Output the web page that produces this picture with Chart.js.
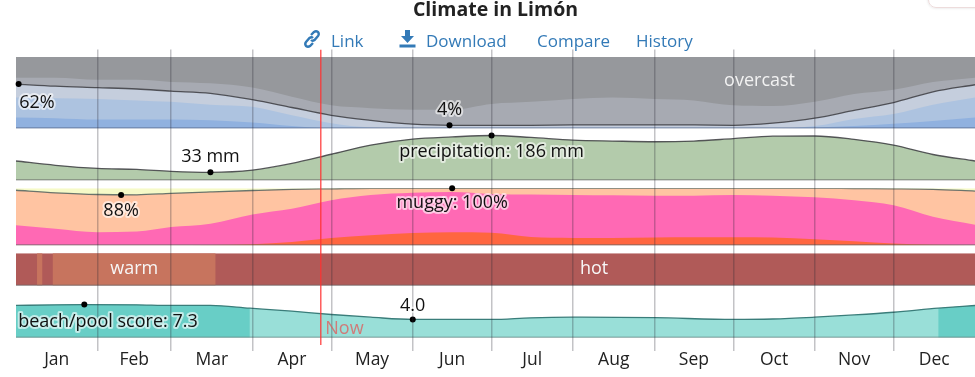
<!DOCTYPE html>
<html>
<head>
<meta charset="utf-8">
<title>Climate in Limón</title>
<script src="https://cdn.jsdelivr.net/npm/chart.js@4"></script>
<style>
    body { margin: 0; background: #fff; overflow: hidden; }
    #chartCanvas { position: absolute; left: 0; top: 0; }
    .nav { position: absolute; top: 29px; font: 17px "Open Sans", sans-serif; color: #337ab7; white-space: nowrap; }
    .nav svg { position: absolute; top: 0; }
    #corner { position: absolute; left: 928px; top: -20px; width: 80px; height: 26px; border: 1px solid #eddcdc; border-radius: 8px; box-shadow: 0 0 3px #ddd; }
</style>
</head>
<body>
<canvas id="chartCanvas" width="975" height="377"></canvas>
<span class="nav" style="left:331px">Link</span>
<span class="nav" style="left:426px">Download</span>
<span class="nav" style="left:537px">Compare</span>
<span class="nav" style="left:636px">History</span>
<svg class="nav" style="left:303px;top:29px" width="18" height="20" viewBox="0 0 18 20" fill="none" stroke="#337ab7" stroke-width="2.4">
    <path d="M8 6 L11 3 Q13 1.5 15 3 Q16.5 5 15 7 L11.5 11 Q9.5 12.5 8 11"/>
    <path d="M10 14 L7 17 Q5 18.5 3 17 Q1.5 15 3 13 L6.5 9 Q8.5 7.5 10 9"/>
</svg>
<svg class="nav" style="left:399px;top:30px" width="17" height="18" viewBox="0 0 17 18" fill="#337ab7">
    <path d="M6 0 H11 V6 H15 L8.5 13 L2 6 H6 Z"/>
    <rect x="0.5" y="14.5" width="16" height="3"/>
</svg>
<div id="corner"></div>
<script>
const monthLabels = ['Jan', 'Feb', 'Mar', 'Apr', 'May', 'Jun', 'Jul', 'Aug', 'Sep', 'Oct', 'Nov', 'Dec'];
const monthEnds = [31, 59, 90, 120, 151, 181, 212, 243, 273, 304, 334];
const monthMids = [15.5, 45, 74.5, 105, 135.5, 166, 196.5, 227.5, 258, 288.5, 319, 349.5];

// days of the year the curves were read at
const days = [0, 15, 31, 46, 59, 74, 90, 105, 120, 135, 151, 166, 181, 196, 212, 227, 243, 258, 273, 288, 304, 319, 334, 349, 365];

// cloud cover, cumulative % from the bottom of the band
const cloudClear = [15, 14, 12, 12, 12, 11, 8, 3, 0, 0, 0, 0, 0, 0, 0, 0, 0, 0, 0, 0, 1, 3, 6, 10, 15];
const cloudMostlyClear = [43, 42, 41, 39, 37, 33, 30, 18, 7, 1, 0, 0, 0, 0, 0, 0, 0, 0, 0, 0, 3, 13, 20, 33, 43];
const cloudPartly = [62, 59, 57, 55, 52, 49, 40, 29, 18, 11, 5.5, 4, 4, 4, 4.5, 4.5, 4.5, 4.5, 4, 7, 14, 25, 36, 51, 61];
const cloudMostly = [71, 71, 68, 68, 65, 63, 57, 44, 32, 28, 26, 26, 34, 37, 41, 43, 41, 39, 32, 31, 37, 48, 54, 65, 71];

// precipitation, mm
const precipitation = [80, 62, 49, 45, 37, 33, 42, 70, 108, 146, 171, 180, 186, 178, 167, 163, 160, 163, 173, 183, 184, 170, 146, 107, 80];

// humidity comfort, cumulative %
const humidOppressive = [0, 0, 0, 0, 0.2, 0.5, 2, 6, 13, 17.5, 21.5, 23, 22, 14.5, 13, 13, 13.5, 14, 14, 13.5, 10.5, 7, 3, 1, 0];
const humidMuggy = [35, 29, 23, 24, 32, 38, 54, 64, 79, 88, 92, 93.5, 90, 89, 88, 87.5, 87, 87, 88, 87, 84, 79, 70, 50, 36];
const humidTotal = [96.5, 92, 89, 88.5, 91, 93.5, 96, 98, 99, 100, 100, 100, 100, 100, 100, 100, 100, 100, 100, 100, 100, 99.5, 99, 98, 95];

// spans of the year that read as warm, everything else is hot
const warmStarts = [8, 14];
const warmEnds = [10, 76];

// beach/pool score
const beachDays = [0, 15, 26, 46, 59, 74, 89, 105, 120, 135, 151, 166, 181, 196, 212, 243, 273, 288, 304, 319, 334, 351, 365];
const beachScore = [7.1, 7.25, 7.3, 7.25, 7.1, 7.1, 6.5, 5.85, 5.1, 4.5, 4.0, 4.0, 4.0, 4.37, 4.5, 4.4, 4.0, 4.1, 4.5, 5.0, 5.6, 6.5, 7.1];
const beachGoodUntil = 89;
const beachGoodFrom = 351;

const nowDay = 116;

const pts = (xs, ys) => xs.map((x, i) => ({ x: x, y: ys[i] }));
const flat = (xs, v) => xs.map(x => ({ x: x, y: v }));

function area(axis, xs, ys, color) {
    return {
        yAxisID: axis, data: pts(xs, ys), backgroundColor: color, fill: 'origin',
        borderWidth: 0, pointRadius: 0, cubicInterpolationMode: 'monotone'
    };
}
function curve(axis, xs, ys, color) {
    return {
        yAxisID: axis, data: pts(xs, ys), borderColor: color || 'rgba(60,60,65,0.85)', borderWidth: 1.3,
        fill: false, pointRadius: 0, cubicInterpolationMode: 'monotone'
    };
}
function baseline(axis, color) {
    return { yAxisID: axis, data: flat([0, 365], 0), borderColor: color, borderWidth: 1.5, fill: false, pointRadius: 0 };
}
function dots(axis, xs, ys) {
    return {
        yAxisID: axis, data: pts(xs, ys), showLine: false, pointRadius: 3, clip: false,
        pointBackgroundColor: '#000', pointBorderWidth: 0
    };
}
function warmSpans() {
    const out = [];
    warmStarts.forEach((s, i) => {
        out.push({ x: s, y: 0 }, { x: s, y: 1 }, { x: warmEnds[i], y: 1 }, { x: warmEnds[i], y: 0 });
    });
    return out;
}

// first dataset ends up on top
const datasets = [
    { yAxisID: 'yFull', data: pts([nowDay, nowDay], [6, 301]), borderColor: 'rgba(255,50,50,0.8)', borderWidth: 1.5, pointRadius: 0, fill: false },

    dots('yCloud', [1, 165], [62, 4]),
    baseline('yCloud', '#5b6f92'),
    curve('yCloud', days, cloudPartly),
    area('yCloud', days, cloudClear, '#90b1df'),
    area('yCloud', days, cloudMostlyClear, '#adc3e0'),
    area('yCloud', days, cloudPartly, '#c5cedd'),
    area('yCloud', days, cloudMostly, '#a7aab2'),
    area('yCloud', [0, 365], [100, 100], '#96989c'),

    dots('yPrecip', [74, 181], [33, 186]),
    baseline('yPrecip', '#666'),
    curve('yPrecip', days, precipitation),
    area('yPrecip', days, precipitation, '#b3cbab'),

    dots('yHumid', [40, 166], [88, 100]),
    baseline('yHumid', '#666'),
    curve('yHumid', days, humidTotal, 'rgba(70,90,90,0.8)'),
    area('yHumid', days, humidOppressive, '#ff6640'),
    area('yHumid', days, humidMuggy, '#ff69b4'),
    area('yHumid', days, humidTotal, '#ffc4a2'),
    area('yHumid', [0, 365], [100, 100], '#f6fac8'),

    baseline('yTemp', '#666'),
    { yAxisID: 'yTemp', data: warmSpans(), backgroundColor: '#c7745e', fill: 'origin', borderWidth: 0, pointRadius: 0 },
    area('yTemp', [0, 365], [1, 1], '#b05a58'),

    dots('yBeach', [26, 151], [7.3, 4.0]),
    baseline('yBeach', '#5f7f7d'),
    curve('yBeach', beachDays, beachScore, '#3a7d7a'),
    area('yBeach', beachDays.filter(d => d <= beachGoodUntil), beachScore.filter((v, i) => beachDays[i] <= beachGoodUntil), '#68cec6'),
    area('yBeach', beachDays.filter(d => d >= beachGoodFrom), beachScore.filter((v, i) => beachDays[i] >= beachGoodFrom), '#68cec6'),
    area('yBeach', beachDays, beachScore, '#99dfd8')
];

// text sitting on the bands: text, day, axis, value, colour
const bandLabels = [
    ['62%', 8, 'yCloud', 36, '#111'],
    ['4%', 165, 'yCloud', 26, '#111'],
    ['overcast', 283, 'yCloud', 66, '#f2f2f2'],
    ['33 mm', 74, 'yPrecip', 96, '#111'],
    ['precipitation: 186 mm', 181, 'yPrecip', 117, '#111'],
    ['88%', 40, 'yHumid', 61, '#111'],
    ['muggy: 100%', 166, 'yHumid', 74, '#111'],
    ['warm', 45, 'yTemp', 0.53, '#f7f7f7'],
    ['hot', 220, 'yTemp', 0.53, '#f7f7f7'],
    ['beach/pool score: 7.3', 35, 'yBeach', 3.55, '#111'],
    ['4.0', 151, 'yBeach', 7.1, '#111'],
    ['Now', 125, 'yBeach', 2, 'rgba(225,90,90,0.75)']
];

const labelPlugin = {
    id: 'bandLabels',
    afterDraw(chart) {
        const ctx = chart.ctx;
        ctx.save();
        ctx.font = '18px "Open Sans", sans-serif';
        ctx.textAlign = 'center';
        ctx.textBaseline = 'middle';
        ctx.lineJoin = 'round';
        bandLabels.forEach(l => {
            const x = chart.scales.x.getPixelForValue(l[1]);
            const y = chart.scales[l[2]].getPixelForValue(l[3]);
            if (l[4] === '#111') {
                ctx.strokeStyle = 'rgba(255,255,255,0.6)';
                ctx.lineWidth = 4;
                ctx.strokeText(l[0], x, y);
            }
            ctx.fillStyle = l[4];
            ctx.fillText(l[0], x, y);
        });
        ctx.restore();
    }
};

// stacked y axes, the spacers only keep the gaps between the bands
function band(weight, min, max) {
    return { display: false, position: 'left', stack: 'bands', stackWeight: weight, min: min, max: max };
}

new Chart(document.getElementById('chartCanvas').getContext('2d'), {
    type: 'line',
    data: { datasets: datasets },
    plugins: [labelPlugin],
    options: {
        responsive: false,
        animation: false,
        events: [],
        layout: { autoPadding: false, padding: { left: 16, right: 0, top: 0, bottom: 0 } },
        plugins: {
            legend: { display: false },
            tooltip: { enabled: false },
            title: {
                display: true, text: 'Climate in Limón', fullSize: false, color: '#222',
                font: { family: '"Open Sans", sans-serif', size: 19.5, weight: 'bold', lineHeight: 1 },
                padding: { top: 1, bottom: 29 }
            }
        },
        scales: {
            x: {
                type: 'linear', min: 0, max: 365, position: 'bottom',
                afterBuildTicks: s => { s.ticks = monthEnds.map(v => ({ value: v })); },
                afterFit: s => { s.height = 0; },
                ticks: { display: false },
                border: { display: false },
                grid: { color: 'rgba(40,40,50,0.28)', lineWidth: 1.5, drawTicks: false, z: 1 }
            },
            xMonths: {
                type: 'linear', min: 0, max: 365, position: 'bottom',
                afterBuildTicks: s => { s.ticks = monthMids.map(v => ({ value: v })); },
                afterFit: s => { s.height = 26; },
                ticks: {
                    autoSkip: false, maxRotation: 0, padding: -1, color: '#222',
                    font: { family: '"Open Sans", sans-serif', size: 17.5 },
                    callback: v => monthLabels[monthMids.indexOf(v)]
                },
                border: { display: false },
                grid: { display: false, drawTicks: false }
            },
            yFull: { display: false, position: 'right', min: 0, max: 301 },
            // listed from the bottom of the chart to the top
            gap0: band(13.5, 0, 1),
            yBeach: band(45, 0, 10),
            gap1: band(7, 0, 1),
            yTemp: band(32, 0, 1),
            gap2: band(8, 0, 1),
            yHumid: band(57, 0, 100),
            gap3: band(8, 0, 1),
            yPrecip: band(48, 0, 200),
            gap4: band(4, 0, 1),
            yCloud: band(71, 0, 100),
            gap5: band(7.5, 0, 1)
        }
    }
});
</script>
</body>
</html>
